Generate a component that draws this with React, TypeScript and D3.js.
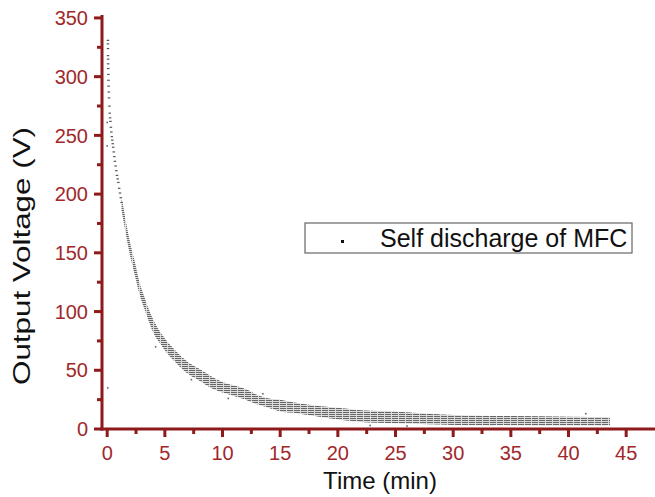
import React from "react";
import * as d3 from "d3";

// ---- data ----
// sparse early samples (t in min, V)
const earlyTime = [0.04, 0.04, 0.05, 0.05, 0.06, 0.06, 0.07, 0.08, 0.09, 0.1, 0.12, 0.14, 0.17, 0.2, 0.23, 0.26, 0.3, 0.34, 0.38, 0.42, 0.46, 0.5, 0.55, 0.6, 0.65, 0.71, 0.77, 0.83, 0.89, 0.95, 1.02, 1.09, 1.16, 1.23];
const earlyVolt = [331, 328, 324, 318, 315, 311, 307, 302, 297, 292, 287, 282, 275, 269, 265, 262, 257, 253, 249, 246, 243, 240, 236, 232, 228, 224, 220, 216, 213, 210, 205, 201, 197, 193];

// dense band of samples: time, lower and upper voltage edge
const bandTime = [1.25, 1.4, 1.6, 2.0, 2.4, 2.8, 3.2, 3.6, 4.0, 4.5, 5.0, 5.5, 6.0, 6.5, 7.0, 8.0, 9.0, 10, 11, 12, 13, 14, 15, 16, 18, 20, 22, 25, 28, 30, 35, 40, 43.6];
const bandLow = [186, 178, 167, 147, 131, 115, 103, 92, 82, 74, 67, 61, 56, 51, 47, 41, 35, 31, 28, 25, 21, 18, 15, 14, 11, 8, 6, 5, 4, 3.5, 3.2, 3, 3];
const bandHigh = [196, 189, 178, 158, 142, 125, 113, 102, 93, 84, 77, 71, 66, 61, 57, 51, 45, 40, 37, 34, 29, 26, 25, 23, 20, 18, 16, 15, 13, 12, 11, 10.5, 10];

// stray samples
const strayTime = [0.0, 0.0, 0.05, 7.3, 10.5, 4.2, 13.5, 22.8, 26.0, 41.5];
const strayVolt = [261, 241, 35, 42, 26, 70, 30, 3, 2.5, 13];

const xTicks = [0, 5, 10, 15, 20, 25, 30, 35, 40, 45];
const xMinor = [2.5, 7.5, 12.5, 17.5, 22.5, 27.5, 32.5, 37.5, 42.5];
const yTicks = [0, 50, 100, 150, 200, 250, 300, 350];
const yMinor = [25, 75, 125, 175, 225, 275, 325];

const xTitle = "Time (min)";
const yTitle = "Output Voltage (V)";
const legendLabel = "Self discharge of MFC";

const W = 655;
const H = 497;
const AXIS = "#8E1A1C";
const LABEL = "#A0282B";
const FONT = "Arial, 'Liberation Sans', sans-serif";

export default function App() {
  const x = d3.scaleLinear().domain([-0.45, 47.5]).range([102, 655]);
  const y = d3.scaleLinear().domain([0, 352.5]).range([429, 15]);

  const band = bandTime.map((t, i) => ({ t, lo: bandLow[i], hi: bandHigh[i] }));
  const area = d3
    .area<{ t: number; lo: number; hi: number }>()
    .x((d) => x(d.t))
    .y0((d) => y(d.lo))
    .y1((d) => y(d.hi))
    .curve(d3.curveMonotoneX);

  const x0 = x.range()[0];
  const y0 = y(0);
  const bandPath = area(band) || "";

  return (
    <svg
      width={W}
      height={H}
      style={{ position: "absolute", left: 0, top: 0, background: "#fff" }}
      fontFamily={FONT}
    >
      <defs>
        <pattern id="streaks" patternUnits="userSpaceOnUse" width={7} height={2}>
          <rect x={0} y={0} width={6} height={1} fill="#666" />
        </pattern>
      </defs>
      <rect width={W} height={H} fill="#fff" />

      {/* data */}
      <path d={bandPath} fill="#9a9a9a" opacity={0.35} />
      <path d={bandPath} fill="url(#streaks)" />
      {earlyTime.map((t, i) => (
        <rect key={"e" + i} x={x(t) - 1} y={y(earlyVolt[i]) - 0.5} width={2.5} height={1.2} fill="#555" />
      ))}
      {strayTime.map((t, i) => (
        <rect key={"s" + i} x={x(t) - 0.8} y={y(strayVolt[i]) - 0.8} width={1.6} height={1.6} fill="#666" />
      ))}

      {/* y axis */}
      <line x1={x0} x2={x0} y1={y(352.5)} y2={y0 + 1.5} stroke={AXIS} strokeWidth={3} />
      {yTicks.map((v) => (
        <g key={"yt" + v}>
          <line x1={x0 - 8} x2={x0} y1={y(v)} y2={y(v)} stroke={AXIS} strokeWidth={3} />
          <text x={88} y={y(v)} dy="0.36em" textAnchor="end" fontSize={20} fill={LABEL}>
            {v}
          </text>
        </g>
      ))}
      {yMinor.map((v) => (
        <line key={"ym" + v} x1={x0 - 5} x2={x0} y1={y(v)} y2={y(v)} stroke={AXIS} strokeWidth={3} />
      ))}

      {/* x axis */}
      <line x1={x0 - 1.5} x2={W} y1={y0} y2={y0} stroke={AXIS} strokeWidth={3} />
      {xTicks.map((t) => (
        <g key={"xt" + t}>
          <line x1={x(t)} x2={x(t)} y1={y0} y2={y0 + 8} stroke={AXIS} strokeWidth={3} />
          <text x={x(t)} y={460} textAnchor="middle" fontSize={20} fill={LABEL}>
            {t}
          </text>
        </g>
      ))}
      {xMinor.map((t) => (
        <line key={"xm" + t} x1={x(t)} x2={x(t)} y1={y0} y2={y0 + 5} stroke={AXIS} strokeWidth={3} />
      ))}

      {/* titles */}
      <text x={380} y={489} textAnchor="middle" fontSize={24} fill="#111">
        {xTitle}
      </text>
      <text
        transform={`translate(30,256) rotate(-90)`}
        textAnchor="middle"
        fontSize={24}
        fill="#111"
        textLength={258}
        lengthAdjust="spacingAndGlyphs"
      >
        {yTitle}
      </text>

      {/* legend */}
      <rect x={305} y={223} width={327} height={30} fill="#fff" stroke="#666" strokeWidth={1.2} />
      <rect x={341} y={240} width={3} height={3} fill="#111" />
      <text x={380} y={247} fontSize={25} fill="#111">
        {legendLabel}
      </text>
    </svg>
  );
}
